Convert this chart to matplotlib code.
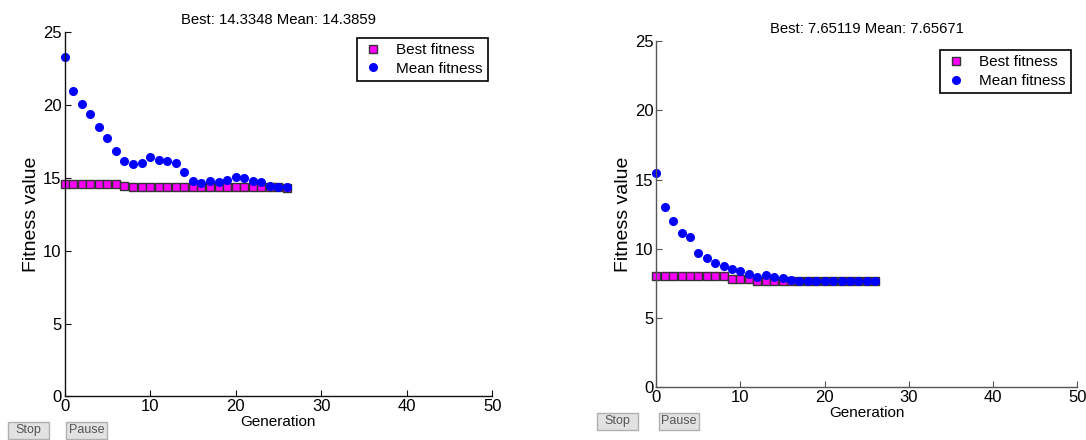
import matplotlib
matplotlib.use("Agg")
import matplotlib.pyplot as plt
from matplotlib.patches import Rectangle

plt.rcParams["font.family"] = ["Liberation Sans", "DejaVu Sans"]

# left run
gen_a = list(range(27))
best_a = [14.58] * 7 + [14.47] + [14.40] * 7 + [14.35] * 11 + [14.3348]
mean_a = [23.28, 20.99, 20.08, 19.37, 18.50, 17.76, 16.85, 16.18, 15.93, 16.00,
          16.46, 16.23, 16.18, 16.00, 15.43, 14.81, 14.63, 14.81, 14.74, 14.86,
          15.08, 15.01, 14.81, 14.74, 14.47, 14.40, 14.3859]
title_a = "Best: 14.3348 Mean: 14.3859"

# right run
gen_b = list(range(27))
best_b = [8.07] * 9 + [7.80] * 3 + [7.65] * 14 + [7.65119]
mean_b = [15.46, 13.00, 11.99, 11.15, 10.84, 9.70, 9.37, 8.96, 8.74, 8.57,
          8.40, 8.21, 7.99, 8.09, 7.97, 7.88, 7.72, 7.71, 7.68, 7.67,
          7.67, 7.66, 7.66, 7.66, 7.66, 7.66, 7.65671]
title_b = "Best: 7.65119 Mean: 7.65671"

x_ticks = [0, 10, 20, 30, 40, 50]
y_ticks = [0, 5, 10, 15, 20, 25]


def draw_panel(ax, gen, best, mean, title, spine_color, legend_anchor):
    ax.plot(gen, best, "s", color="#ff00ff", markeredgecolor="#333333",
            markeredgewidth=1.0, markersize=5.5, label="Best fitness", clip_on=False)
    ax.plot(gen, mean, "o", color="#0000ff", markeredgecolor="#0000ff",
            markersize=5.5, label="Mean fitness", clip_on=False)
    ax.set_xlim(0, 50)
    ax.set_ylim(0, 25)
    ax.set_xticks(x_ticks)
    ax.set_yticks(y_ticks)
    for side in ("top", "right"):
        ax.spines[side].set_visible(False)
    for side in ("left", "bottom"):
        ax.spines[side].set_color(spine_color)
        ax.spines[side].set_linewidth(1.0)
    ax.tick_params(direction="in", length=4, width=0.8, color=spine_color,
                   labelsize=12, pad=2)
    ax.set_xlabel("Generation", fontsize=11, labelpad=1)
    ax.set_ylabel("Fitness value", fontsize=14, labelpad=2)
    ax.set_title(title, fontsize=10.7, pad=6)
    leg = ax.legend(loc="upper right", bbox_to_anchor=legend_anchor, fontsize=11,
                    fancybox=False, framealpha=1, edgecolor="black",
                    handletextpad=0.8, borderpad=0.35, labelspacing=0.3,
                    handlelength=1.4, borderaxespad=0)
    leg.get_frame().set_linewidth(1.2)


def add_button(fig, x0, y0, x1, y1, text):
    # pixel box (from top-left) -> figure fraction
    w, h = 1086.0, 440.0
    left, bottom = x0 / w, (h - y1) / h
    width, height = (x1 - x0) / w, (y1 - y0) / h
    fig.patches.append(Rectangle((left, bottom), width, height, transform=fig.transFigure,
                                 facecolor="#e2e2e2", edgecolor="#b0b0b0", linewidth=1))
    fig.text(left + width / 2, bottom + height / 2, text, fontsize=9, color="#555555",
             ha="center", va="center")


fig = plt.figure(figsize=(10.86, 4.4), dpi=100)
ax1 = fig.add_axes([0.0594, 0.0993, 0.3939, 0.8273])
ax2 = fig.add_axes([0.6043, 0.1198, 0.3877, 0.7864])

draw_panel(ax1, gen_a, best_a, mean_a, title_a, "#111111", (0.99, 0.985))
draw_panel(ax2, gen_b, best_b, mean_b, title_b, "#555555", (0.985, 0.975))

add_button(fig, 8, 422, 49, 438.5, "Stop")
add_button(fig, 66, 422, 107, 438.5, "Pause")
add_button(fig, 597, 413, 638, 429.5, "Stop")
add_button(fig, 659, 413, 699, 429.5, "Pause")

fig.savefig("out.png", dpi=100)
